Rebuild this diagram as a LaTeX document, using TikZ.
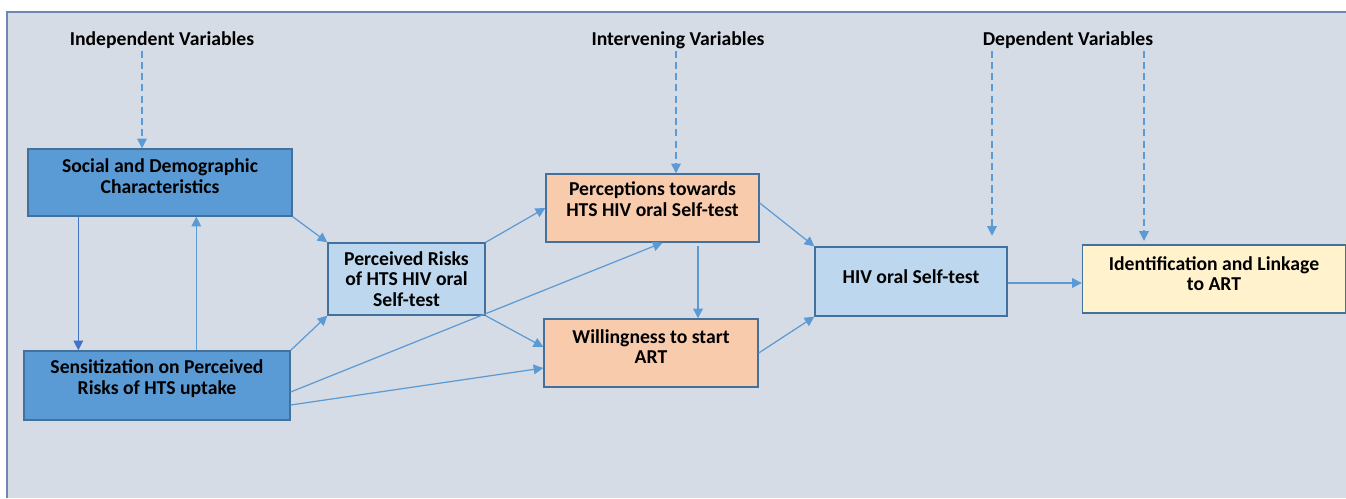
\documentclass[tikz,border=0pt]{standalone}
\usepackage{fontspec}
\setmainfont{Carlito}
\usetikzlibrary{arrows.meta}

\definecolor{panelbg}{HTML}{D6DCE5}
\definecolor{panelline}{HTML}{6A88B0}
\definecolor{boxline}{HTML}{41719C}
\definecolor{darkblue}{HTML}{5B9BD5}
\definecolor{lightblue}{HTML}{BDD7EE}
\definecolor{peach}{HTML}{F8CBAD}
\definecolor{paleyellow}{HTML}{FFF2CC}
\definecolor{arrowblue}{HTML}{5B9BD5}
\definecolor{deepblue}{HTML}{4472C4}

\tikzset{
  box/.style={draw=boxline, line width=0.8pt, inner sep=0pt},
  boxtext/.style={align=center, font=\bfseries\fontsize{11.2}{11.6}\selectfont},
  heading/.style={font=\bfseries\fontsize{11.2}{11.6}\selectfont, inner sep=1pt},
  arr/.style={draw=arrowblue, line width=0.7pt, -{Triangle[length=5.5pt,width=5.5pt]}},
  dasharr/.style={arr, dash pattern=on 4pt off 2.4pt},
}

\begin{document}
\begin{tikzpicture}[x=0.02cm, y=-0.02cm]
    \useasboundingbox (0,0) rectangle (1346,498);
    % panel
    \fill[panelbg] (7,12) rectangle (1346,498);
    \draw[panelline, line width=1.2pt] (7,498) -- (7,12) -- (1346,12);

    % headings
    \node[heading] (IV) at (162,40) {Independent Variables};
    \node[heading] (MV) at (678,40) {Intervening Variables};
    \node[heading] (DV) at (1068,40) {Dependent Variables};

    % boxes
    \node[box, fill=darkblue, minimum width=5.28cm, minimum height=1.34cm] (SD) at (160,182.5) {};
    \node[boxtext] (SDt) at ([yshift=3.5pt]SD.center) {Social and Demographic\\Characteristics};
    \node[box, fill=darkblue, minimum width=5.32cm, minimum height=1.38cm] (SEN) at (157,385.5) {};
    \node[boxtext] (SENt) at ([yshift=4pt]SEN.center) {Sensitization on Perceived\\Risks of HTS uptake};
    \node[box, fill=lightblue, minimum width=3.14cm, minimum height=1.44cm] (PR) at (406.5,279) {};
    \node[boxtext] (PRt) at (PR.center) {Perceived Risks\\of HTS HIV oral\\Self-test};
    \node[box, fill=peach, minimum width=4.26cm, minimum height=1.36cm] (PT) at (652.5,208) {};
    \node[boxtext] (PTt) at ([yshift=5pt]PT.center) {Perceptions towards\\HTS HIV oral Self-test};
    \node[box, fill=peach, minimum width=4.28cm, minimum height=1.36cm] (WI) at (651,353) {};
    \node[boxtext] (WIt) at ([yshift=3.5pt]WI.center) {Willingness to start\\ART};
    \node[box, fill=lightblue, minimum width=3.84cm, minimum height=1.38cm] (HIV) at (911,281.5) {};
    \node[boxtext] (HIVt) at ([yshift=3pt]HIV.center) {HIV oral Self-test};
    \node[box, fill=paleyellow, minimum width=5.26cm, minimum height=1.36cm] (ID) at (1214,279) {};
    \node[boxtext] (IDt) at ([yshift=3pt]ID.center) {Identification and Linkage\\to ART};

    % dashed links from headings
    \draw[dasharr] ([shift={(-20,0)}]IV.south) -- ([shift={(-20,0)}]IV.south |- SD.north);
    \draw[dasharr] ([shift={(-2,0)}]MV.south) -- ([shift={(-2,0)}]MV.south |- PT.north);
    \draw[dasharr, shorten >=6pt] ([shift={(-76,0)}]DV.south) -- ([shift={(-76,0)}]DV.south |- HIV.north);
    \draw[dasharr, shorten >=2pt] ([shift={(76,0)}]DV.south) -- ([shift={(76,0)}]DV.south |- ID.north);

    % links
    \draw[arr, draw=deepblue] ([shift={(51,0)}]SD.south west) -- ([shift={(51,0)}]SD.south west |- SEN.north);
    \draw[arr] ([shift={(173,0)}]SEN.north west) -- ([shift={(173,0)}]SEN.north west |- SD.south);
    \draw[arr] (SD.south east) -- (PR.north west);
    \draw[arr] (SEN.north east) -- (PR.south west);
    \draw[arr] (PR.north east) -- (PT.west);
    \draw[arr] (PR.south east) -- ([shift={(0,-6)}]WI.west);
    \draw[arr] ([shift={(0,6.5)}]SEN.east) -- ([shift={(10,0)}]PT.south);
    \draw[arr] ([shift={(0,19.5)}]SEN.east) -- ([shift={(0,15)}]WI.west);
    \draw[arr, shorten <=2pt] ([shift={(45.5,0)}]PT.south) -- ([shift={(45.5,0)}]PT.south |- WI.north);
    \draw[arr] ([shift={(0,-5)}]PT.east) -- (HIV.north west);
    \draw[arr] (WI.east) -- (HIV.south west);
    \draw[arr] ([shift={(0,1.5)}]HIV.east) -- ([shift={(0,1.5)}]HIV.east -| ID.west);
\end{tikzpicture}
\end{document}
